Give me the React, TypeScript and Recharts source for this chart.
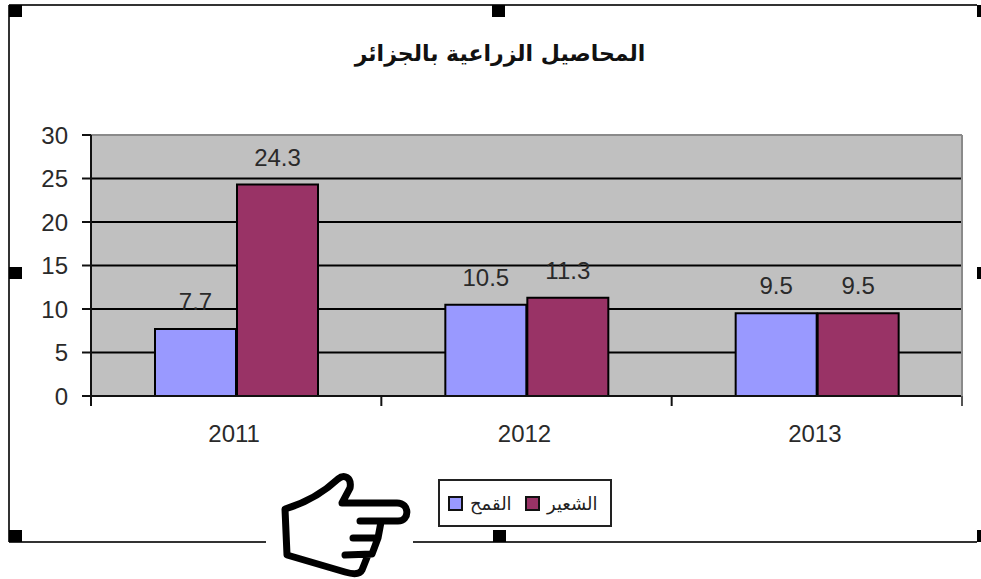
import React from 'react';
import { BarChart, Bar, XAxis, YAxis, CartesianGrid, Legend, LabelList, ReferenceLine } from 'recharts';

const years = ['2011', '2012', '2013'];
const wheat = [7.7, 10.5, 9.5];
const barley = [24.3, 11.3, 9.5];
const yTicks = [0, 5, 10, 15, 20, 25, 30];
const gridValues = [5, 10, 15, 20, 25];

const chartTitle = 'المحاصيل الزراعية بالجزائر';
const wheatName = 'القمح';
const barleyName = 'الشعير';

const WHEAT_COLOR = '#9999ff';
const BARLEY_COLOR = '#993366';
const TEXT_COLOR = '#2a2a2a';
const FONT = '"Liberation Sans", Arial, sans-serif';
const ARABIC_FONT = '"DejaVu Sans", sans-serif';

const data = years.map((year, i) => ({ year, wheat: wheat[i], barley: barley[i] }));

// half of one category band, the axis ticks sit on the band edges
const HALF_BAND = 871 / 6;

const YearTick = ({ x, y, payload, index }: any) => (
  <g>
    <line x1={x - HALF_BAND} x2={x - HALF_BAND} y1={y - 6} y2={y + 4} stroke="#111" strokeWidth={2} />
    {index === years.length - 1 && (
      <line x1={x + HALF_BAND} x2={x + HALF_BAND} y1={y - 6} y2={y + 4} stroke="#555" strokeWidth={2} />
    )}
    <text x={x - 2} y={y + 40} textAnchor="middle" fontSize={24} fontFamily={FONT} fill={TEXT_COLOR}>
      {payload.value}
    </text>
  </g>
);

const LegendBox = () => (
  <div
    style={{
      boxSizing: 'border-box',
      width: 174,
      height: 48,
      border: '2px solid #222',
      background: '#fff',
      display: 'flex',
      alignItems: 'center',
      paddingLeft: 8,
      fontFamily: ARABIC_FONT,
      fontSize: 18,
      color: '#222',
    }}
  >
    <span style={{ boxSizing: 'border-box', width: 15, height: 15, background: WHEAT_COLOR, border: '2px solid #111' }} />
    <span style={{ marginLeft: 7, width: 55 }}>{wheatName}</span>
    <span style={{ boxSizing: 'border-box', width: 15, height: 15, background: BARLEY_COLOR, border: '2px solid #111' }} />
    <span style={{ marginLeft: 7 }}>{barleyName}</span>
  </div>
);

// selection frame and handles around the pasted chart
const handles = [
  [9, 5], [492, 5], [977, 5],
  [9, 267], [977, 267],
  [9, 530], [493, 530], [977, 530],
];

const Frame = () => (
  <svg width={981} height={579} style={{ position: 'absolute', left: 0, top: 0 }}>
    <line x1={9} x2={977} y1={5} y2={5} stroke="#333" strokeWidth={2} />
    <line x1={9} x2={9} y1={5} y2={542} stroke="#333" strokeWidth={2} />
    <line x1={9} x2={266} y1={542} y2={542} stroke="#333" strokeWidth={2} />
    <line x1={413} x2={977} y1={542} y2={542} stroke="#333" strokeWidth={2} />
    <line x1={962} x2={962} y1={135} y2={396} stroke="#8a8a8a" strokeWidth={2} />
    {handles.map(([hx, hy]) => (
      <rect key={`${hx}-${hy}`} x={hx} y={hy} width={13} height={12} fill="#000" />
    ))}
    <path
      d="M342 503 L350 488 C352 477 344 474 338 479 C322 494 305 503 285 509 L287 555 L345 572 C355 575 360 574 362 570 L368 555 L372 554 L378 538 L381 522 L398 521 C410 521 410 503 397 503 Z"
      fill="#fff"
      stroke="none"
    />
    <path
      d="M360 521 L398 521 C410 521 410 503 397 503 L342 503 L350 488 C352 477 344 474 338 479 C322 494 305 503 285 509 L287 555 L345 572 C355 575 360 574 362 570 L368 555 M381 522 L378 538 L353 538 M378 538 L372 554 L345 555"
      fill="none"
      stroke="#000"
      strokeWidth={7}
      strokeLinejoin="round"
      strokeLinecap="round"
    />
  </svg>
);

export default function App() {
  return (
    <div style={{ position: 'absolute', left: 0, top: 0, width: 981, height: 579, background: '#fff' }}>
      <BarChart
        width={981}
        height={579}
        data={data}
        margin={{ top: 135, right: 19, bottom: 133, left: 0 }}
        barSize={81}
        barGap={1}
        style={{ position: 'absolute', left: 0, top: 0 }}
      >
        <CartesianGrid vertical={false} horizontalValues={gridValues} fill="#c0c0c0" stroke="#000" strokeWidth={2} />
        <ReferenceLine y={30} stroke="#8a8a8a" strokeWidth={2} />
        <XAxis
          dataKey="year"
          height={50}
          axisLine={{ stroke: '#111', strokeWidth: 2 }}
          tickLine={false}
          tick={<YearTick />}
          tickMargin={0}
          interval={0}
        />
        <YAxis
          width={91}
          domain={[0, 30]}
          ticks={yTicks}
          axisLine={{ stroke: '#111', strokeWidth: 2 }}
          tickLine={{ stroke: '#111', strokeWidth: 2 }}
          tickSize={9}
          tickMargin={14}
          tick={{ fontSize: 24, fontFamily: FONT, fill: TEXT_COLOR }}
        />
        <Legend
          verticalAlign="middle"
          align="center"
          content={<LegendBox />}
          wrapperStyle={{ position: 'absolute', left: 438, top: 479, width: 174 }}
        />
        <Bar dataKey="wheat" name={wheatName} fill={WHEAT_COLOR} stroke="#000" strokeWidth={2} isAnimationActive={false}>
          <LabelList dataKey="wheat" position="top" offset={19} fontSize={24} fontFamily={FONT} fill={TEXT_COLOR} />
        </Bar>
        <Bar dataKey="barley" name={barleyName} fill={BARLEY_COLOR} stroke="#000" strokeWidth={2} isAnimationActive={false}>
          <LabelList dataKey="barley" position="top" offset={19} fontSize={24} fontFamily={FONT} fill={TEXT_COLOR} />
        </Bar>
      </BarChart>
      <Frame />
      <div
        style={{
          position: 'absolute',
          left: 300,
          width: 400,
          top: 41,
          textAlign: 'center',
          direction: 'rtl',
          fontFamily: ARABIC_FONT,
          fontWeight: 'bold',
          fontSize: 22,
          color: '#111',
        }}
      >
        {chartTitle}
      </div>
    </div>
  );
}
